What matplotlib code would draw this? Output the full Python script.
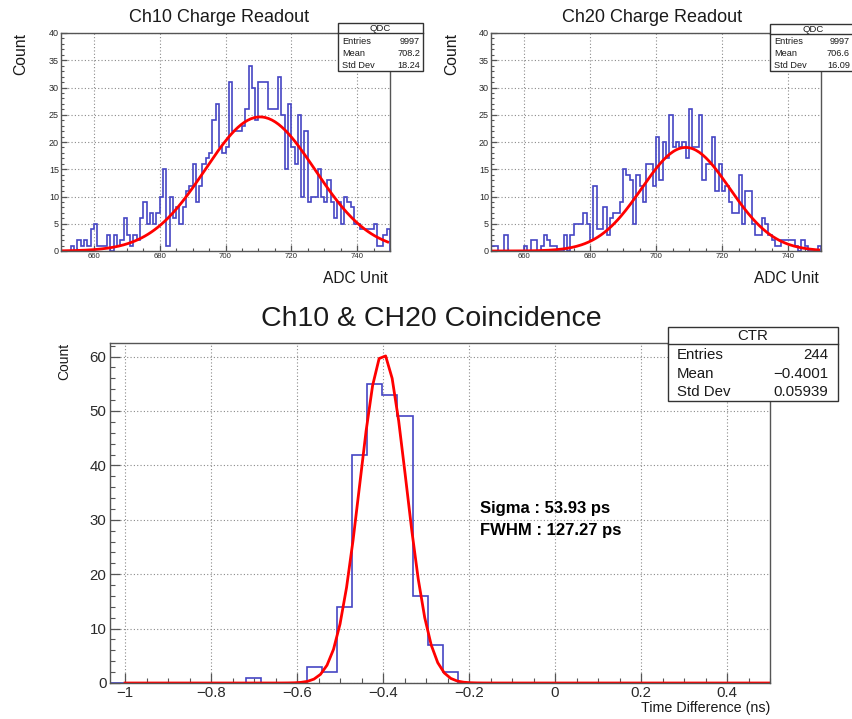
import numpy as np
import matplotlib
matplotlib.use('Agg')
import matplotlib.pyplot as plt
from matplotlib.patches import Rectangle
from matplotlib.lines import Line2D
from matplotlib.ticker import MultipleLocator

plt.rcParams['font.family'] = ['Liberation Sans', 'DejaVu Sans']

W, H = 852, 719

# QDC spectra: one ADC unit per bin, first bin starts at 650
qdc_lo = 650
ch10_counts = [
    0, 0, 0, 1, 0, 2, 1, 2, 1, 4,
    5, 1, 1, 1, 3, 0, 3, 1, 2, 6,
    3, 1, 3, 2, 6, 9, 5, 7, 5, 7,
    10, 15, 1, 10, 6, 8, 5, 8, 11, 12,
    16, 9, 12, 16, 17, 18, 24, 27, 19, 18,
    19, 31, 22, 22, 22, 23, 26, 34, 30, 24,
    31, 31, 31, 26, 26, 26, 32, 25, 15, 27,
    19, 16, 25, 10, 22, 9, 10, 10, 15, 10,
    9, 13, 9, 6, 9, 5, 10, 9, 8, 5,
    5, 4, 4, 4, 4, 5, 1, 1, 3, 4,
]
ch20_counts = [
    1, 1, 0, 0, 3, 0, 0, 0, 0, 0,
    1, 0, 2, 2, 0, 1, 3, 2, 1, 1,
    0, 0, 3, 0, 3, 5, 5, 5, 7, 5,
    2, 12, 4, 4, 8, 3, 6, 7, 7, 9,
    15, 14, 13, 5, 14, 12, 9, 16, 16, 12,
    21, 13, 20, 17, 25, 19, 20, 19, 20, 17,
    26, 19, 19, 25, 13, 16, 16, 21, 11, 16,
    11, 12, 9, 7, 7, 14, 5, 11, 11, 5,
    3, 3, 6, 5, 3, 2, 1, 1, 2, 2,
    2, 2, 1, 0, 2, 1, 0, 0, 0, 1,
]
# gaussian fit parameters (constant, mean, sigma)
ch10_fit = (24.6, 710.5, 16.7)
ch20_fit = (19.0, 709.0, 13.3)
stat_labels = ['Entries', 'Mean', 'Std Dev']
ch10_stats = ['9997', '708.2', '18.24']
ch20_stats = ['9997', '706.6', '16.09']
qdc_xticks = [660, 680, 700, 720, 740]
qdc_yticks = [0, 5, 10, 15, 20, 25, 30, 35, 40]

# coincidence time difference (ns)
ctr_lo = -1.0352
ctr_width = 0.0352
ctr_counts = [
    0, 0, 0, 0, 0, 0, 0, 0, 0, 1,
    0, 0, 0, 3, 2, 14, 42, 55, 53, 49,
    16, 7, 2, 0, 0, 0, 0, 0, 0, 0,
    0, 0, 0, 0, 0, 0, 0, 0, 0, 0,
    0, 0, 0, 0,
]
ctr_fit = (60.5, -0.400, 0.05393)
ctr_stats = ['244', '\u22120.4001', '0.05939']
ctr_xticks = [-1, -0.8, -0.6, -0.4, -0.2, 0, 0.2, 0.4]
ctr_xlabels = ['\u22121', '\u22120.8', '\u22120.6', '\u22120.4', '\u22120.2', '0', '0.2', '0.4']
ctr_yticks = [0, 10, 20, 30, 40, 50, 60]

HIST = '#4545c4'
FRAME = '#555555'
TXT = '#1a1a1a'


def gauss(x, p):
    a, mu, s = p
    return a * np.exp(-0.5 * ((x - mu) / s) ** 2)


def fx(x):
    return x / W


def fy(y):
    return 1 - y / H


def px_axes(fig, x0, y0, x1, y1):
    return fig.add_axes([fx(x0), fy(y1), (x1 - x0) / W, (y1 - y0) / H])


def style_axes(ax, xlab_size, ylab_size, maj_len, min_len, pad):
    for s in ax.spines.values():
        s.set_color(FRAME)
        s.set_linewidth(1.0)
    ax.tick_params(which='both', direction='in', color=FRAME, top=False, right=False)
    ax.tick_params(which='major', length=maj_len, width=0.9, labelcolor='#2a2a2a', pad=pad)
    ax.tick_params(axis='x', which='major', labelsize=xlab_size)
    ax.tick_params(axis='y', which='major', labelsize=ylab_size)
    ax.tick_params(which='minor', length=min_len, width=0.8)
    ax.grid(True, which='major', color='#8a8a8a', lw=0.8, ls=(0, (1, 2)))
    ax.set_axisbelow(True)


def stat_box(fig, x0, x1, y0, ysep, y1, title, values, head_fs, fs, lab_x, val_x, row_ys):
    fig.add_artist(Rectangle((fx(x0), fy(y1)), (x1 - x0) / W, (y1 - y0) / H,
                             transform=fig.transFigure, facecolor='white',
                             edgecolor='#333333', lw=1.0, zorder=5))
    fig.add_artist(Line2D([fx(x0), fx(x1)], [fy(ysep), fy(ysep)],
                          transform=fig.transFigure, color='#333333', lw=1.0, zorder=6))
    fig.text(fx((x0 + x1) / 2), fy((y0 + ysep) / 2 + 0.5), title,
             ha='center', va='center', fontsize=head_fs, color=TXT, zorder=7)
    for lab, val, yy in zip(stat_labels, values, row_ys):
        fig.text(fx(lab_x), fy(yy), lab, ha='left', va='center', fontsize=fs, color=TXT, zorder=7)
        fig.text(fx(val_x), fy(yy), val, ha='right', va='center', fontsize=fs, color=TXT, zorder=7)


fig = plt.figure(figsize=(W / 100, H / 100), dpi=100)

# ---- top panels: QDC charge readout
panels = [
    (61, 390, ch10_counts, ch10_fit, 'Ch10 Charge Readout', 219, 21),
    (491, 821, ch20_counts, ch20_fit, 'Ch20 Charge Readout', 652, 452),
]
for x0, x1, counts, fit, title, tx, cx in panels:
    ax = px_axes(fig, x0, 33, x1, 251)
    edges = qdc_lo + np.arange(len(counts) + 1)
    ax.stairs(counts, edges, color=HIST, lw=1.2, baseline=0)
    xs = np.linspace(qdc_lo + 0.7, qdc_lo + len(counts) - 0.7, 200)
    ax.plot(xs, gauss(xs, fit), color='red', lw=2.0)
    ax.set_xlim(qdc_lo, qdc_lo + len(counts))
    ax.set_ylim(0, 40)
    ax.set_xticks(qdc_xticks)
    ax.set_yticks(qdc_yticks)
    ax.xaxis.set_minor_locator(MultipleLocator(5))
    ax.yaxis.set_minor_locator(MultipleLocator(1))
    style_axes(ax, 5.6, 6.5, 4.5, 2.3, 1.5)
    fig.text(fx(tx), fy(17), title, ha='center', va='center', fontsize=13, color=TXT)
    fig.text(fx(cx), fy(33), 'Count', rotation=90, ha='center', va='top', fontsize=11.3, color=TXT)
    fig.text(fx(x1 - 2), fy(279), 'ADC Unit', ha='right', va='center', fontsize=11.2, color=TXT)

stat_box(fig, 338, 423, 23, 33, 71, 'QDC', ch10_stats, 6.8, 6.6, 342, 420, [42, 53.5, 65])
stat_box(fig, 770, 856, 24, 34, 71, 'QDC', ch20_stats, 6.8, 6.6, 774, 850, [42, 53.5, 65])

# ---- bottom panel: coincidence time resolution
ax = px_axes(fig, 110, 343, 770, 683)
edges = ctr_lo + ctr_width * np.arange(len(ctr_counts) + 1)
ax.stairs(ctr_counts, edges, color=HIST, lw=1.2, baseline=0)
xs = np.linspace(-1.0, 0.5, 100)
ax.plot(xs, gauss(xs, ctr_fit), color='red', lw=2.0)
ax.set_xlim(-1.035, 0.5)
ax.set_ylim(0, 62.5)
ax.set_xticks(ctr_xticks)
ax.set_xticklabels(ctr_xlabels)
ax.set_yticks(ctr_yticks)
ax.xaxis.set_minor_locator(MultipleLocator(0.05))
ax.yaxis.set_minor_locator(MultipleLocator(2))
style_axes(ax, 10.8, 10.8, 7.5, 3.8, 2.5)

fig.text(fx(431), fy(319), 'Ch10 & CH20 Coincidence', ha='center', va='center', fontsize=20.5, color=TXT)
fig.text(fx(64), fy(343), 'Count', rotation=90, ha='center', va='top', fontsize=10, color=TXT)
fig.text(fx(770), fy(708), 'Time Difference (ns)', ha='right', va='center', fontsize=10.3, color=TXT)
fig.text(fx(480), fy(508), 'Sigma : 53.93 ps', ha='left', va='center', fontsize=12, fontweight='bold', color='black')
fig.text(fx(480), fy(531), 'FWHM : 127.27 ps', ha='left', va='center', fontsize=12, fontweight='bold', color='black')

stat_box(fig, 668, 838, 327, 344, 401, 'CTR', ctr_stats, 10.8, 10.8, 677, 828, [355, 373.5, 391.5])

fig.savefig('out.png', dpi=100)
